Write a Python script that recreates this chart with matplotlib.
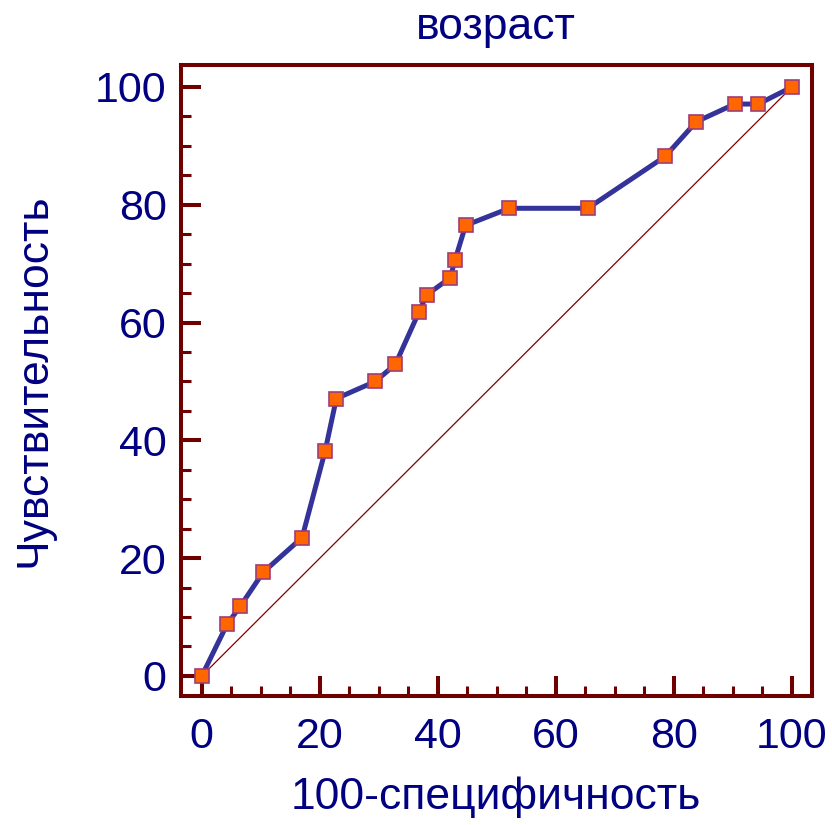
import matplotlib.pyplot as plt
from matplotlib.ticker import MultipleLocator

# ROC curve points: 100-specificity vs sensitivity
fpr = [0, 4.3, 6.5, 10.4, 17.0, 20.9, 22.8, 29.4, 32.8, 36.8, 38.1,
       42.1, 42.9, 44.7, 52.1, 65.4, 78.5, 83.8, 90.3, 94.3, 100]
tpr = [0, 8.8, 11.8, 17.6, 23.5, 38.2, 47.1, 50.0, 52.9, 61.8, 64.7,
       67.6, 70.6, 76.5, 79.4, 79.4, 88.2, 94.1, 97.1, 97.1, 100]
ticks = [0, 20, 40, 60, 80, 100]

NAVY = '#000080'
FRAME = '#6e0000'

plt.rcParams['font.family'] = ['Liberation Sans', 'DejaVu Sans']

fig = plt.figure(figsize=(8.32, 8.25), dpi=100)
ax = fig.add_axes([0.217, 0.1564, 0.976 - 0.217, 0.921 - 0.1564])

# reference diagonal
ax.plot([0, 100], [0, 100], color='#800000', linewidth=0.9, zorder=2)
# ROC curve
ax.plot(fpr, tpr, color='#333399', linewidth=3.6, zorder=3,
        marker='s', markersize=9.8, markerfacecolor='#ff6600',
        markeredgecolor='#a03c78', markeredgewidth=1.2)

ax.set_xlim(-3.6, 103.4)
ax.set_ylim(-3.4, 103.7)
ax.set_xticks(ticks)
ax.set_yticks(ticks)
ax.xaxis.set_minor_locator(MultipleLocator(5))
ax.yaxis.set_minor_locator(MultipleLocator(5))

for side in ['left', 'bottom', 'right', 'top']:
    ax.spines[side].set_color(FRAME)
    ax.spines[side].set_linewidth(2.9)

ax.tick_params(which='major', direction='in', length=14.5, width=2.9,
               color=FRAME, labelcolor=NAVY, labelsize=31, pad=10)
ax.tick_params(which='minor', direction='in', length=7.2, width=2.2,
               color=FRAME)
ax.tick_params(axis='x', which='major', pad=15)

ax.set_title('возраст', fontsize=32, color=NAVY, pad=19)
ax.set_xlabel('100-специфичность', fontsize=32, color=NAVY, labelpad=14)
ax.set_ylabel('Чувствительность', fontsize=32, color=NAVY, labelpad=29)

fig.savefig('out.png', dpi=100, facecolor='white')
